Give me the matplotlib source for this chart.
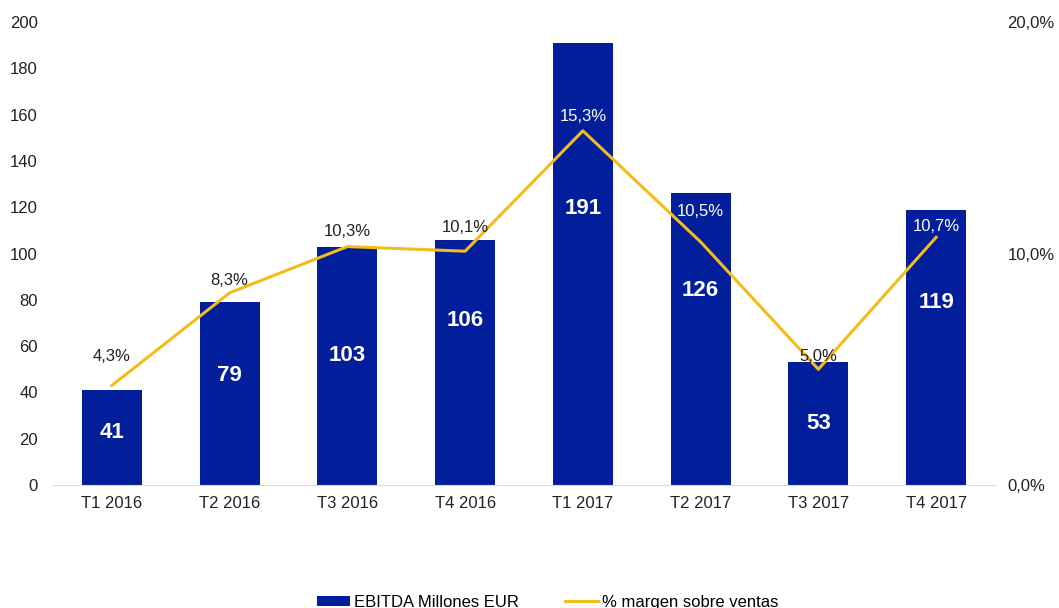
import matplotlib.pyplot as plt
import matplotlib.ticker as mtick

plt.rcParams['font.family'] = ['Liberation Sans', 'DejaVu Sans']

quarters = ['T1 2016', 'T2 2016', 'T3 2016', 'T4 2016',
            'T1 2017', 'T2 2017', 'T3 2017', 'T4 2017']
ebitda = [41, 79, 103, 106, 191, 126, 53, 119]
margin = [4.3, 8.3, 10.3, 10.1, 15.3, 10.5, 5.0, 10.7]

# where the white bar labels sit (left axis units), chosen to dodge the line
bar_label_y = [22.5, 47.5, 56, 71, 119.5, 84, 26.5, 79]
# how far (points) each margin label sits above its point
margin_off = [21, 9, 11, 17, 10.5, 22, 9, 8]
# margin labels drawn inside a bar get white text
margin_white = [False, False, False, False, True, True, False, True]

navy = '#021E9A'
gold = '#F2BC1B'

fig = plt.figure(figsize=(10.59, 6.08), dpi=100)
ax = fig.add_axes([53/1059, 123/608, 942/1059, 463/608])
ax2 = ax.twinx()

x = range(len(quarters))
ax.bar(x, ebitda, width=0.51, color=navy, label='EBITDA Millones EUR', zorder=2)
ax.set_ylim(0, 200)
ax.set_xlim(-0.5, len(quarters) - 0.5)
ax.set_yticks(range(0, 201, 20))
ax.set_xticks(list(x))
ax.set_xticklabels(quarters)

ax2.plot(x, margin, color=gold, lw=2.2, label='% margen sobre ventas', zorder=3)
ax2.set_ylim(0, 20)
ax2.set_yticks([0, 10, 20])
ax2.yaxis.set_major_formatter(mtick.FuncFormatter(lambda v, p: ('%.1f%%' % v).replace('.', ',')))

for i, v in enumerate(ebitda):
    ax.text(i, bar_label_y[i], str(v), ha='center', va='center', color='white',
            fontsize=16, fontweight='bold', zorder=4)

for i, m in enumerate(margin):
    ax2.annotate(('%.1f%%' % m).replace('.', ','), (i, m), xytext=(0, margin_off[i]),
                 textcoords='offset points', ha='center', va='center', fontsize=12,
                 color='white' if margin_white[i] else '#222222', zorder=5)

for a in (ax, ax2):
    for s in a.spines.values():
        s.set_visible(False)
    a.tick_params(length=0, labelsize=12, colors='#222222')
ax.spines['bottom'].set_visible(True)
ax.spines['bottom'].set_color('#D9D9D9')
ax.tick_params(axis='y', pad=11)
ax.tick_params(axis='x', pad=8)
ax2.tick_params(axis='y', pad=9)

h1, l1 = ax.get_legend_handles_labels()
h2, l2 = ax2.get_legend_handles_labels()
fig.legend(h1 + h2, l1 + l2, loc='lower center', bbox_to_anchor=(0.517, -0.028), ncol=2,
           frameon=False, fontsize=12, columnspacing=2.8, handlelength=2.0,
           handleheight=0.6, handletextpad=0.2)

fig.savefig('out.png', dpi=100)
